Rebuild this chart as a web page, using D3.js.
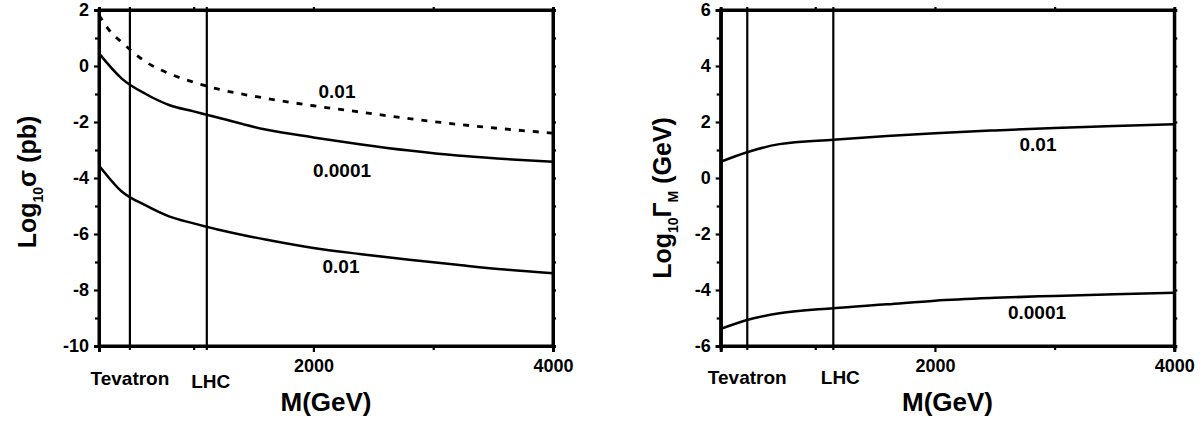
<!DOCTYPE html>
<html>
<head>
<meta charset="utf-8">
<script src="https://cdn.jsdelivr.net/npm/d3@7/dist/d3.min.js"></script>
<style>
    body { margin: 0; background: #fff; }
    svg text { font-family: Arial, "Liberation Sans", sans-serif; font-weight: bold; fill: #000; }
</style>
</head>
<body>
<div id="chart"></div>
<script>
// left panel: Log10 sigma (pb) vs M
const sigmaMass = [210, 400, 600, 800, 1000, 1200, 1600, 2000, 2400, 2800, 3200, 3600, 4000];
const sigma0001 = [0.45, -0.45, -1.00, -1.40, -1.62, -1.84, -2.27, -2.55, -2.80, -3.02, -3.20, -3.32, -3.42];
const sigma001 = [-3.55, -4.48, -4.98, -5.38, -5.62, -5.84, -6.20, -6.50, -6.72, -6.92, -7.10, -7.27, -7.40];
const sigmaDashMass = [210, 300, 400, 500, 600, 800, 1000, 1200, 1600, 2000, 2400, 2800, 3200, 3600, 4000];
const sigmaDash001 = [1.82, 1.25, 0.85, 0.47, 0.15, -0.28, -0.58, -0.82, -1.15, -1.42, -1.65, -1.88, -2.08, -2.25, -2.40];

// right panel: Log10 Gamma_M (GeV) vs M
const gammaMass = [210, 430, 700, 1150, 1600, 2000, 2500, 3000, 3500, 4000];
const gamma001 = [0.58, 0.92, 1.21, 1.37, 1.50, 1.60, 1.70, 1.79, 1.86, 1.92];
const gamma00001 = [-5.39, -5.07, -4.83, -4.65, -4.51, -4.38, -4.28, -4.21, -4.15, -4.10];

const massDomain = [210, 4000];
const massTicks = [2000, 4000];
const massMinor = [1000, 3000];
const sigmaTicks = [2, 0, -2, -4, -6, -8, -10];
const gammaTicks = [6, 4, 2, 0, -2, -4, -6];

const svg = d3.select('#chart')
    .append('svg')
    .attr('width', 1203)
    .attr('height', 423);

function drawPanel(p) {
    const g = svg.append('g')
        .attr('transform', `translate(${p.left}, ${p.top})`);

    const xScale = d3.scaleLinear().domain(massDomain).range([0, p.width]);
    const yScale = d3.scaleLinear().domain(p.yDomain).range([p.height, 0]);

    // marker lines (Tevatron / LHC)
    p.markers.forEach(m => {
        g.append('line')
            .attr('x1', xScale(m.mass)).attr('x2', xScale(m.mass))
            .attr('y1', -3).attr('y2', p.height + 4)
            .attr('stroke', '#000').attr('stroke-width', 2.2);
        g.append('text')
            .attr('x', xScale(m.mass) + m.dx)
            .attr('y', m.y)
            .attr('text-anchor', 'middle')
            .style('font-size', '19px')
            .text(m.name);
    });

    const line = d3.line()
        .x(d => xScale(d[0]))
        .y(d => yScale(d[1]))
        .curve(d3.curveMonotoneX);

    p.series.forEach(s => {
        g.append('path')
            .datum(s.mass.map((m, i) => [m, s.values[i]]))
            .attr('fill', 'none')
            .attr('stroke', '#000')
            .attr('stroke-width', s.dashed ? 2.8 : 2.5)
            .attr('stroke-dasharray', s.dashed ? '6,8' : null)
            .attr('d', line);
        g.append('text')
            .attr('x', s.label[0] - p.left)
            .attr('y', s.label[1] - p.top)
            .attr('text-anchor', 'middle')
            .style('font-size', '19px')
            .text(s.name);
    });

    // frame
    g.append('rect')
        .attr('width', p.width).attr('height', p.height)
        .attr('fill', 'none').attr('stroke', '#000').attr('stroke-width', 3);

    // bottom axis
    const xAxis = g.append('g')
        .attr('transform', `translate(0, ${p.height})`)
        .call(d3.axisBottom(xScale).tickValues(massTicks).tickSize(6).tickPadding(7).tickFormat(d => String(d)));
    xAxis.selectAll('text').style('font-size', '18px');

    g.append('g')
        .attr('transform', `translate(0, ${p.height})`)
        .call(d3.axisBottom(xScale).tickValues(massMinor).tickSize(4).tickFormat(''));

    // top ticks
    g.append('g')
        .call(d3.axisTop(xScale).tickValues(massMinor.concat([2000])).tickSize(3).tickFormat(''));

    // left axis
    const yAxis = g.append('g')
        .call(d3.axisLeft(yScale).tickValues(p.yTicks).tickSize(5).tickPadding(5).tickFormat(d => String(d)));
    yAxis.selectAll('text').style('font-size', '18px');

    const minor = d3.range(p.yDomain[0] + 1, p.yDomain[1], 2);
    g.append('g')
        .call(d3.axisLeft(yScale).tickValues(minor).tickSize(4).tickFormat(''));

    // right ticks
    g.append('g')
        .attr('transform', `translate(${p.width}, 0)`)
        .call(d3.axisRight(yScale).tickValues(d3.range(p.yDomain[0] + 1, p.yDomain[1])).tickSize(3).tickFormat(''));

    svg.selectAll('.domain').attr('stroke-width', 3);
    svg.selectAll('.tick line').attr('stroke-width', 2.2);

    // axis titles
    g.append('text')
        .attr('x', p.width / 2 + p.xTitleDx)
        .attr('y', 411 - p.top)
        .attr('text-anchor', 'middle')
        .style('font-size', '26px')
        .text('M(GeV)');

    const yTitle = g.append('text')
        .attr('transform', `translate(${p.yTitleX - p.left}, ${p.yTitleY - p.top}) rotate(-90)`)
        .attr('text-anchor', 'middle')
        .style('font-size', '25px');
    p.yTitle.forEach(part => {
        yTitle.append('tspan')
            .attr('dy', part.dy || 0)
            .style('font-size', part.sub ? '14px' : null)
            .text(part.t);
    });
}

drawPanel({
    left: 99, top: 10, width: 454, height: 336,
    yDomain: [-10, 2], yTicks: sigmaTicks,
    markers: [
        { name: 'Tevatron', mass: 468, dx: 0, y: 375 },
        { name: 'LHC', mass: 1110, dx: 4, y: 378 }
    ],
    series: [
        { name: '0.01', mass: sigmaDashMass, values: sigmaDash001, dashed: true, label: [337, 98] },
        { name: '0.0001', mass: sigmaMass, values: sigma0001, label: [342, 177] },
        { name: '0.01', mass: sigmaMass, values: sigma001, label: [341, 273] }
    ],
    xTitleDx: 0,
    yTitleX: 36, yTitleY: 182,
    yTitle: [{ t: 'Log' }, { t: '10', sub: true, dy: 7 }, { t: 'σ (pb)', dy: -7 }]
});

drawPanel({
    left: 720.7, top: 10, width: 453.6, height: 336,
    yDomain: [-6, 6], yTicks: gammaTicks,
    markers: [
        { name: 'Tevatron', mass: 432, dx: 0, y: 374 },
        { name: 'LHC', mass: 1151, dx: 7, y: 374 }
    ],
    series: [
        { name: '0.01', mass: gammaMass, values: gamma001, label: [1038, 151] },
        { name: '0.0001', mass: gammaMass, values: gamma00001, label: [1037, 319] }
    ],
    xTitleDx: 0,
    yTitleX: 671, yTitleY: 198,
    yTitle: [{ t: 'Log' }, { t: '10', sub: true, dy: 7 }, { t: 'Γ', dy: -7 }, { t: 'M', sub: true, dy: 7 }, { t: ' (GeV)', dy: -7 }]
});
</script>
</body>
</html>
